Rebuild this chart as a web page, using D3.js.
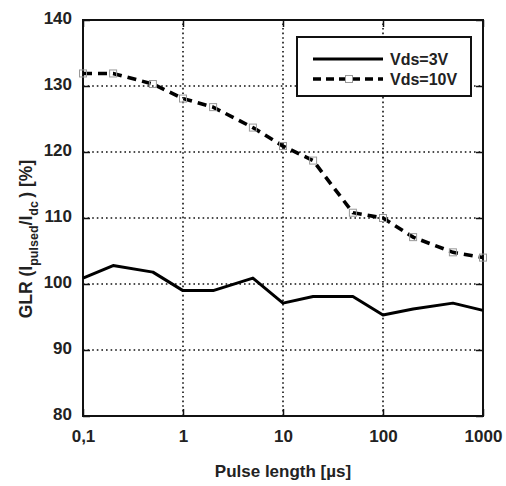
<!DOCTYPE html>
<html>
<head>
<meta charset="utf-8">
<script src="https://cdn.jsdelivr.net/npm/d3@7"></script>
<style>
  html, body { margin: 0; padding: 0; background: #fff; }
  text { font-family: "Liberation Sans", Arial, sans-serif; font-weight: bold; fill: #222; }
</style>
</head>
<body>
<svg id="chart" width="506" height="486"></svg>
<script>
// ---- data ----
const pulseLengths = [0.1, 0.2, 0.5, 1, 2, 5, 10, 20, 50, 100, 200, 500, 1000];
const glrVds3 = [100.9, 102.8, 101.8, 99.0, 99.0, 100.9, 97.1, 98.1, 98.1, 95.3, 96.2, 97.1, 96.0];
const glrVds10 = [131.9, 131.9, 130.3, 128.1, 126.8, 123.7, 120.9, 118.7, 110.8, 110.0, 107.1, 104.8, 104.0];
const xTickValues = [0.1, 1, 10, 100, 1000];
const xTickLabels = ["0,1", "1", "10", "100", "1000"];
const yTickValues = [80, 90, 100, 110, 120, 130, 140];
const seriesNames = ["Vds=3V", "Vds=10V"];

const svg = d3.select("#chart");
const m = { left: 83, top: 20 };
const iw = 400, ih = 396;

const x = d3.scaleLog().domain([0.1, 1000]).range([m.left, m.left + iw]);
const y = d3.scaleLinear().domain([80, 140]).range([m.top + ih, m.top]);

const g = svg.append("g");
const FONT = '"Liberation Sans", Arial, sans-serif';

// gridlines
g.selectAll(".vgrid").data(xTickValues.slice(1, -1)).join("line")
  .attr("x1", d => x(d)).attr("x2", d => x(d))
  .attr("y1", y(80)).attr("y2", y(140))
  .attr("stroke", "#111").attr("stroke-width", 1.6).attr("stroke-dasharray", "1.6,3");
g.selectAll(".hgrid").data(yTickValues.slice(1, -1)).join("line")
  .attr("x1", x(0.1)).attr("x2", x(1000))
  .attr("y1", d => y(d)).attr("y2", d => y(d))
  .attr("stroke", "#111").attr("stroke-width", 1.6).attr("stroke-dasharray", "1.6,3");

// axes with inward ticks, labels
const xAxis = d3.axisBottom(x).tickValues(xTickValues)
  .tickFormat((d, i) => xTickLabels[i]).tickSize(-7).tickPadding(14);
const gx = g.append("g").attr("transform", `translate(0,${y(80)})`).call(xAxis);
gx.select(".domain").remove();
gx.selectAll("line").attr("stroke", "#111").attr("stroke-width", 1.5);
gx.selectAll("text").attr("font-size", 17).attr("fill", "#222")
  .style("font-family", FONT).style("font-weight", "bold");

const xAxisTop = d3.axisTop(x).tickValues(xTickValues).tickSize(-7).tickFormat("");
const gxt = g.append("g").attr("transform", `translate(0,${y(140)})`).call(xAxisTop);
gxt.select(".domain").remove();
gxt.selectAll("line").attr("stroke", "#111").attr("stroke-width", 1.5);

const yAxis = d3.axisLeft(y).tickValues(yTickValues).tickSize(-7).tickPadding(11);
const gy = g.append("g").attr("transform", `translate(${x(0.1)},0)`).call(yAxis);
gy.select(".domain").remove();
gy.selectAll("line").attr("stroke", "#111").attr("stroke-width", 1.5);
gy.selectAll("text").attr("font-size", 17).attr("fill", "#222").attr("dy", "0.2em")
  .style("font-family", FONT).style("font-weight", "bold");

const yAxisR = d3.axisRight(y).tickValues(yTickValues).tickSize(-7).tickFormat("");
const gyr = g.append("g").attr("transform", `translate(${x(1000)},0)`).call(yAxisR);
gyr.select(".domain").remove();
gyr.selectAll("line").attr("stroke", "#111").attr("stroke-width", 1.5);

// frame
g.append("rect").attr("x", x(0.1)).attr("y", y(140))
  .attr("width", x(1000) - x(0.1)).attr("height", y(80) - y(140))
  .attr("fill", "none").attr("stroke", "#111").attr("stroke-width", 2);

// lines
const line = d3.line().x(d => x(d[0])).y(d => y(d[1]));
const d3V = pulseLengths.map((p, i) => [p, glrVds3[i]]);
const d10V = pulseLengths.map((p, i) => [p, glrVds10[i]]);

g.append("path").datum(d3V).attr("d", line)
  .attr("fill", "none").attr("stroke", "#000").attr("stroke-width", 3)
  .attr("stroke-linejoin", "round");
g.append("path").datum(d10V).attr("d", line)
  .attr("fill", "none").attr("stroke", "#000").attr("stroke-width", 3.6)
  .attr("stroke-dasharray", "9,6");
g.selectAll(".mk").data(d10V).join("rect")
  .attr("x", d => x(d[0]) - 3.5).attr("y", d => y(d[1]) - 3.5)
  .attr("width", 7).attr("height", 7)
  .attr("fill", "none").attr("stroke", "#999").attr("stroke-width", 1);

// legend
const lg = g.append("g");
lg.append("rect").attr("x", 297).attr("y", 37).attr("width", 174).attr("height", 59)
  .attr("fill", "#fff").attr("stroke", "#111").attr("stroke-width", 2);
lg.append("line").attr("x1", 313).attr("x2", 383).attr("y1", 59).attr("y2", 59)
  .attr("stroke", "#000").attr("stroke-width", 3);
lg.append("line").attr("x1", 313).attr("x2", 383).attr("y1", 79).attr("y2", 79)
  .attr("stroke", "#000").attr("stroke-width", 3.6).attr("stroke-dasharray", "8,5");
lg.append("rect").attr("x", 345.5).attr("y", 75.5).attr("width", 7).attr("height", 7)
  .attr("fill", "#fff").attr("stroke", "#999").attr("stroke-width", 1);
lg.append("text").attr("x", 390).attr("y", 65).attr("font-size", 16).text(seriesNames[0]);
lg.append("text").attr("x", 390).attr("y", 85).attr("font-size", 16).text(seriesNames[1]);

// axis titles
svg.append("text").attr("x", 283).attr("y", 477).attr("text-anchor", "middle")
  .attr("font-size", 17).text("Pulse length [\u00b5s]");

const yl = svg.append("text").attr("transform", "translate(32,239) rotate(-90)")
  .attr("text-anchor", "middle").attr("font-size", 17.5);
yl.append("tspan").text("GLR (I");
yl.append("tspan").attr("font-size", 12.5).attr("dy", 6).text("pulsed");
yl.append("tspan").attr("dy", -6).text("/I");
yl.append("tspan").attr("font-size", 12.5).attr("dy", 6).text("dc");
yl.append("tspan").attr("dy", -6).text("\u2009) [%]");
</script>
</body>
</html>
